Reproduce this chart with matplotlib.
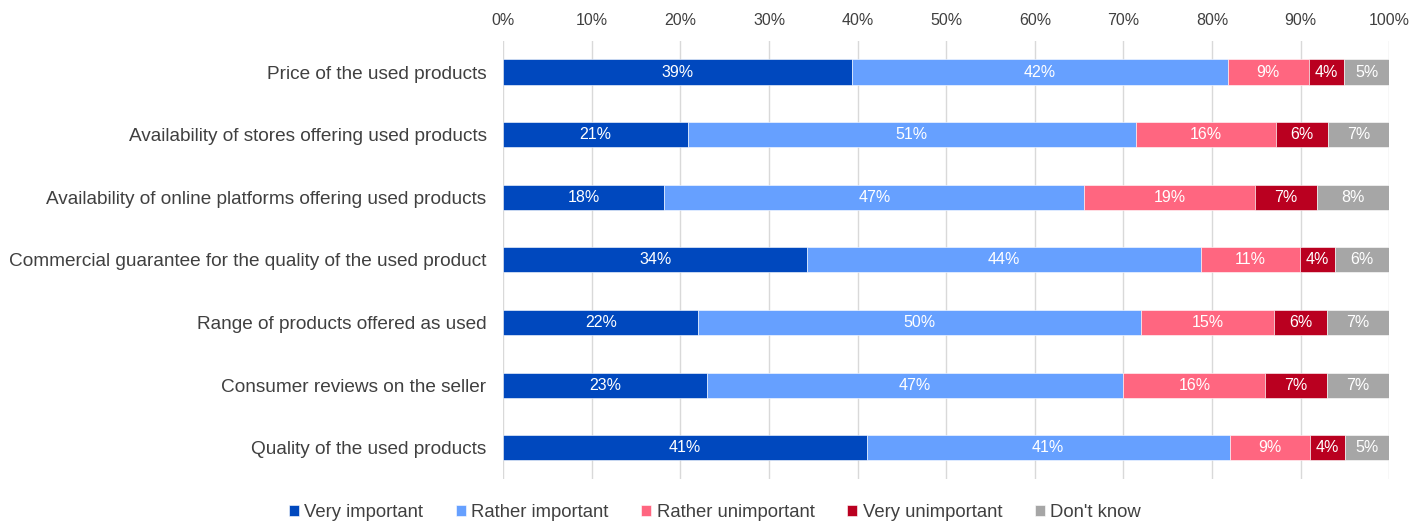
import matplotlib.pyplot as plt
import numpy as np

plt.rcParams['font.family'] = ['Liberation Sans', 'DejaVu Sans']

# survey items, top to bottom
categories = [
    "Price of the used products",
    "Availability of stores offering used products",
    "Availability of online platforms offering used products",
    "Commercial guarantee for the quality of the used product",
    "Range of products offered as used",
    "Consumer reviews on the seller",
    "Quality of the used products",
]

seriesNames = ["Very important", "Rather important", "Rather unimportant",
               "Very unimportant", "Don't know"]

veryImportant = [39.4, 20.8, 18.2, 34.3, 22.0, 23.0, 41.0]
ratherImportant = [42.4, 50.6, 47.4, 44.4, 50.0, 47.0, 41.0]
ratherUnimportant = [9.1, 15.8, 19.2, 11.2, 15.0, 16.0, 9.0]
veryUnimportant = [4.0, 5.9, 7.1, 4.0, 6.0, 7.0, 4.0]
dontKnow = [5.1, 7.0, 8.1, 6.1, 7.0, 7.0, 5.0]

colors = ["#0048BE", "#66A0FF", "#FF6680", "#BA0020", "#A6A6A6"]

fig = plt.figure(figsize=(14.24, 5.22), dpi=100)
ax = fig.add_axes([0.3534, 0.0824, 0.6222, 0.8396])

yPos = np.arange(len(categories))
left = np.zeros(len(categories))
allSeries = [veryImportant, ratherImportant, ratherUnimportant, veryUnimportant, dontKnow]
for name, vals, col in zip(seriesNames, allSeries, colors):
    vals = np.array(vals)
    bars = ax.barh(yPos, vals, left=left, height=0.4, color=col, label=name,
                   edgecolor='white', linewidth=0.4, zorder=3)
    for b, v in zip(bars, vals):
        ax.text(b.get_x() + b.get_width() / 2, b.get_y() + b.get_height() / 2,
                "%d%%" % round(v), ha='center', va='center', color='white',
                fontsize=11.5, zorder=4)
    left = left + vals

ax.set_xlim(0, 100)
ax.set_ylim(len(categories) - 0.5, -0.5)
ax.set_xticks(np.arange(0, 101, 10))
ax.set_xticklabels(["%d%%" % t for t in range(0, 101, 10)])
ax.set_yticks(yPos)
ax.set_yticklabels(categories)
ax.xaxis.tick_top()
ax.tick_params(axis='x', length=0, pad=9, labelsize=11.5, labelcolor='#404040')
ax.tick_params(axis='y', length=0, pad=12, labelsize=13.7, labelcolor='#404040')
ax.grid(axis='x', color='#D9D9D9', linewidth=1, zorder=0)
for s in ax.spines.values():
    s.set_visible(False)

fig.legend(loc='lower center', bbox_to_anchor=(0.502, -0.03), ncol=5, frameon=False,
           fontsize=13.3, handlelength=0.55, handleheight=0.55, handletextpad=0.3,
           columnspacing=1.75, labelcolor='#404040')

fig.savefig('out.png', dpi=100)
